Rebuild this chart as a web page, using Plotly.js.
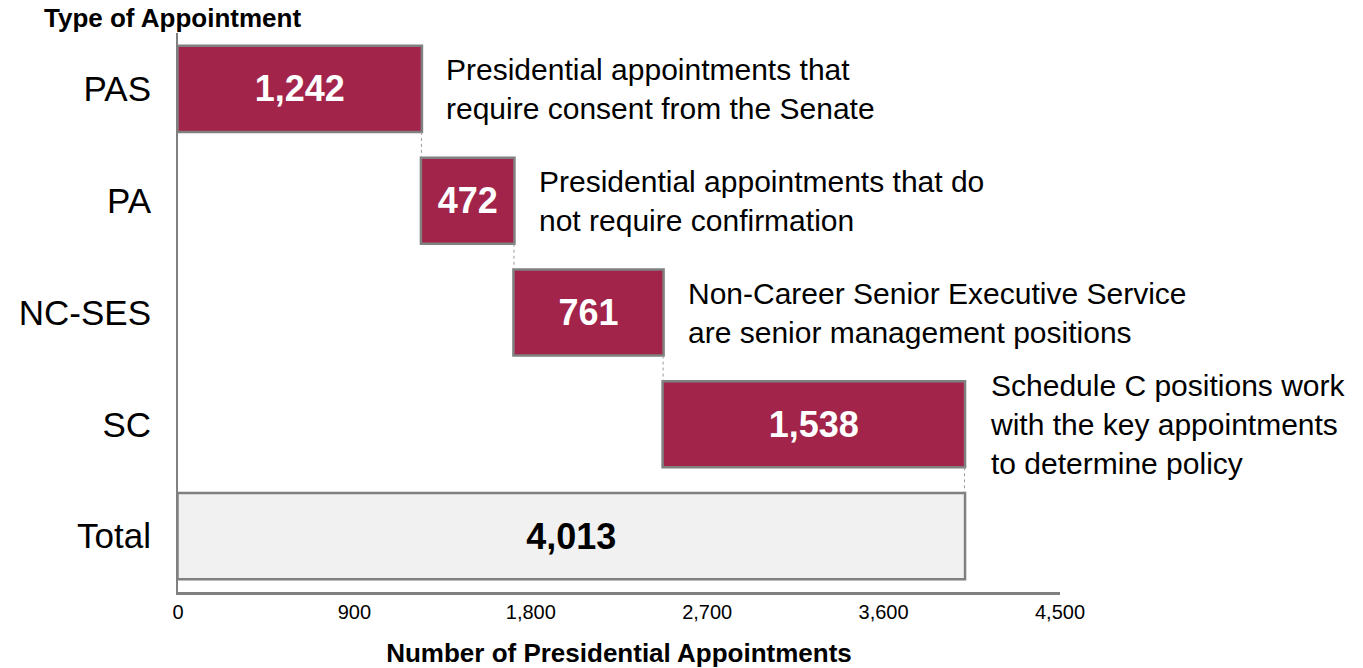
<!DOCTYPE html>
<html>
<head>
<meta charset="utf-8">
<script src="https://cdn.plot.ly/plotly-3.0.1.min.js"></script>
<style>html,body{margin:0;padding:0;background:#fff;}#chart{width:1363px;height:668px;}</style>
</head>
<body>
<div id="chart"></div>
<script>
var categories = ["PAS", "PA", "NC-SES", "SC", "Total"];
var values = [1242, 472, 761, 1538, 4013];
var measures = ["relative", "relative", "relative", "relative", "total"];
var descriptions = [
  "Presidential appointments that<br>require consent from the Senate",
  "Presidential appointments that do<br>not require confirmation",
  "Non-Career Senior Executive Service<br>are senior management positions",
  "Schedule C positions work<br>with the key appointments<br>to determine policy"
];
var tickValues = [0, 900, 1800, 2700, 3600, 4500];

var FONT = 'Liberation Sans, Arial, Helvetica, sans-serif';
var labels = values.map(function(v){ return v.toLocaleString('en-US'); });
var textColors = measures.map(function(m){ return m === 'total' ? '#000000' : '#ffffff'; });

var trace = {
  type: 'waterfall',
  orientation: 'h',
  y: categories,
  x: values,
  measure: measures,
  text: labels,
  textposition: 'inside',
  insidetextanchor: 'middle',
  textfont: {family: FONT, size: 36, color: textColors, weight: 'bold'},
  constraintext: 'none',
  increasing: {marker: {color: '#A2244A', line: {color: '#808080', width: 2.5}}},
  totals: {marker: {color: '#F1F1F1', line: {color: '#808080', width: 2.5}}},
  connector: {mode: 'between', line: {color: '#9a9a9a', width: 1, dash: 'dot'}},
  hoverinfo: 'none',
  cliponaxis: false
};

var annotations = [];
var cum = 0;
for (var i = 0; i < descriptions.length; i++) {
  cum += values[i];
  annotations.push({
    x: cum, y: categories[i], xref: 'x', yref: 'y',
    text: descriptions[i], showarrow: false,
    xanchor: 'left', yanchor: 'middle', align: 'left', xshift: 23,
    font: {family: FONT, size: 30, color: '#000'}
  });
}
annotations.push({
  xref: 'paper', yref: 'paper',
  x: (42 - 178) / (1363 - 178 - 303), y: 1 + (33 - 18) / 559,
  xanchor: 'left', yanchor: 'middle',
  text: '<b>Type of Appointment</b>', showarrow: false,
  font: {family: FONT, size: 26, color: '#000'}
});

var layout = {
  width: 1363, height: 668,
  margin: {l: 178, r: 303, t: 33, b: 76},
  paper_bgcolor: '#fff', plot_bgcolor: '#fff',
  showlegend: false,
  waterfallgap: 0.23,
  font: {family: FONT, color: '#000'},
  xaxis: {
    range: [0, 4500], tickvals: tickValues,
    ticktext: tickValues.map(function(v){ return v.toLocaleString('en-US'); }),
    showgrid: false, zeroline: false, showline: true, linecolor: '#808080', linewidth: 2.5,
    ticks: '', tickfont: {size: 20, color: '#000'},
    title: {text: '<b>Number of Presidential Appointments</b>', font: {size: 26, color: '#000'}, standoff: 24}
  },
  yaxis: {
    autorange: 'reversed', showgrid: false, zeroline: false, showline: true, linecolor: '#808080', linewidth: 2,
    ticks: '', ticklabelstandoff: 18, tickfont: {size: 35, color: '#000'}
  },
  annotations: annotations
};

Plotly.newPlot('chart', [trace], layout, {displayModeBar: false, staticPlot: true});
</script>
</body>
</html>
